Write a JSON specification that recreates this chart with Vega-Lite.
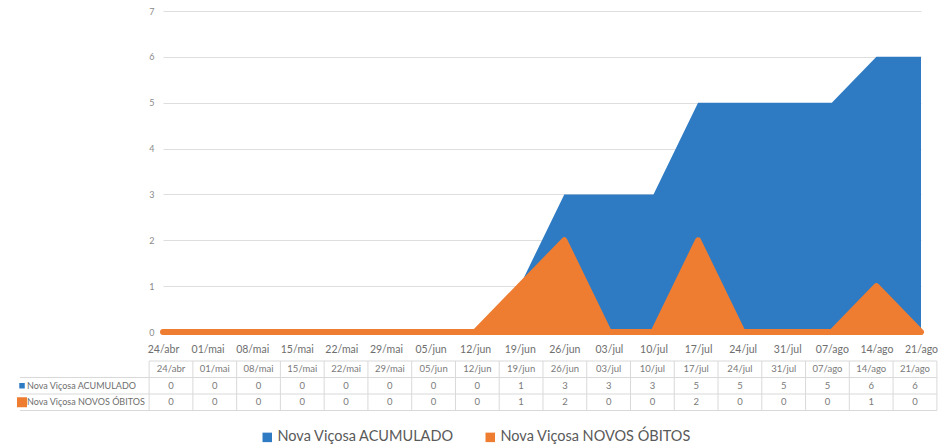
{
  "$schema": "https://vega.github.io/schema/vega-lite/v6.json",
  "background": "white",
  "padding": {"left": 17, "top": 7, "right": 0, "bottom": 0},
  "config": {
    "font": "Lato",
    "view": {"stroke": null},
    "concat": {"spacing": 5},
    "legend": {
      "orient": "none",
      "legendX": 97,
      "legendY": 419,
      "direction": "horizontal",
      "symbolType": "square",
      "symbolSize": 90,
      "symbolStrokeWidth": 0,
      "labelFontSize": 14.5,
      "labelColor": "#595959",
      "labelFont": "Lato",
      "labelLimit": 0,
      "columnPadding": 28,
      "labelOffset": 3
    }
  },
  "datasets": {
    "obitos": [
      {"data": "24/abr", "serie": "Nova Viçosa ACUMULADO", "valor": 0},
      {"data": "01/mai", "serie": "Nova Viçosa ACUMULADO", "valor": 0},
      {"data": "08/mai", "serie": "Nova Viçosa ACUMULADO", "valor": 0},
      {"data": "15/mai", "serie": "Nova Viçosa ACUMULADO", "valor": 0},
      {"data": "22/mai", "serie": "Nova Viçosa ACUMULADO", "valor": 0},
      {"data": "29/mai", "serie": "Nova Viçosa ACUMULADO", "valor": 0},
      {"data": "05/jun", "serie": "Nova Viçosa ACUMULADO", "valor": 0},
      {"data": "12/jun", "serie": "Nova Viçosa ACUMULADO", "valor": 0},
      {"data": "19/jun", "serie": "Nova Viçosa ACUMULADO", "valor": 1},
      {"data": "26/jun", "serie": "Nova Viçosa ACUMULADO", "valor": 3},
      {"data": "03/jul", "serie": "Nova Viçosa ACUMULADO", "valor": 3},
      {"data": "10/jul", "serie": "Nova Viçosa ACUMULADO", "valor": 3},
      {"data": "17/jul", "serie": "Nova Viçosa ACUMULADO", "valor": 5},
      {"data": "24/jul", "serie": "Nova Viçosa ACUMULADO", "valor": 5},
      {"data": "31/jul", "serie": "Nova Viçosa ACUMULADO", "valor": 5},
      {"data": "07/ago", "serie": "Nova Viçosa ACUMULADO", "valor": 5},
      {"data": "14/ago", "serie": "Nova Viçosa ACUMULADO", "valor": 6},
      {"data": "21/ago", "serie": "Nova Viçosa ACUMULADO", "valor": 6},
      {"data": "24/abr", "serie": "Nova Viçosa NOVOS ÓBITOS", "valor": 0},
      {"data": "01/mai", "serie": "Nova Viçosa NOVOS ÓBITOS", "valor": 0},
      {"data": "08/mai", "serie": "Nova Viçosa NOVOS ÓBITOS", "valor": 0},
      {"data": "15/mai", "serie": "Nova Viçosa NOVOS ÓBITOS", "valor": 0},
      {"data": "22/mai", "serie": "Nova Viçosa NOVOS ÓBITOS", "valor": 0},
      {"data": "29/mai", "serie": "Nova Viçosa NOVOS ÓBITOS", "valor": 0},
      {"data": "05/jun", "serie": "Nova Viçosa NOVOS ÓBITOS", "valor": 0},
      {"data": "12/jun", "serie": "Nova Viçosa NOVOS ÓBITOS", "valor": 0},
      {"data": "19/jun", "serie": "Nova Viçosa NOVOS ÓBITOS", "valor": 1},
      {"data": "26/jun", "serie": "Nova Viçosa NOVOS ÓBITOS", "valor": 2},
      {"data": "03/jul", "serie": "Nova Viçosa NOVOS ÓBITOS", "valor": 0},
      {"data": "10/jul", "serie": "Nova Viçosa NOVOS ÓBITOS", "valor": 0},
      {"data": "17/jul", "serie": "Nova Viçosa NOVOS ÓBITOS", "valor": 2},
      {"data": "24/jul", "serie": "Nova Viçosa NOVOS ÓBITOS", "valor": 0},
      {"data": "31/jul", "serie": "Nova Viçosa NOVOS ÓBITOS", "valor": 0},
      {"data": "07/ago", "serie": "Nova Viçosa NOVOS ÓBITOS", "valor": 0},
      {"data": "14/ago", "serie": "Nova Viçosa NOVOS ÓBITOS", "valor": 1},
      {"data": "21/ago", "serie": "Nova Viçosa NOVOS ÓBITOS", "valor": 0}
    ]
  },
  "resolve": {"scale": {"x": "independent", "y": "independent"}},
  "vconcat": [
    {
      "width": 758,
      "height": 321,
      "data": {"name": "obitos"},
      "encoding": {
        "x": {
          "field": "data", "type": "ordinal", "sort": null,
          "scale": {"type": "point", "padding": 0},
          "axis": {"title": null, "labelAngle": 0, "domain": false, "ticks": false, "grid": false,
                   "labelPadding": 12, "labelFontSize": 10.5, "labelColor": "#6e6e6e"}
        },
        "y": {
          "field": "valor", "type": "quantitative",
          "scale": {"domain": [0, 7], "nice": false},
          "axis": {"title": null, "values": [0, 1, 2, 3, 4, 5, 6, 7], "format": "d", "domain": false, "ticks": false,
                   "labelPadding": 9, "labelFontSize": 9, "labelColor": "#8a8a8a", "gridColor": "#dedede"}
        },
        "color": {
          "field": "serie", "type": "nominal",
          "scale": {"domain": ["Nova Viçosa ACUMULADO", "Nova Viçosa NOVOS ÓBITOS"], "range": ["#2E7BC4", "#EE7D31"]},
          "legend": {"title": null}
        }
      },
      "layer": [
        {
          "transform": [{"filter": "datum.serie === 'Nova Viçosa ACUMULADO'"}],
          "mark": {"type": "area", "opacity": 1}
        },
        {
          "transform": [{"filter": "datum.serie === 'Nova Viçosa NOVOS ÓBITOS'"}],
          "mark": {"type": "area", "opacity": 1, "stroke": "#EE7D31", "strokeWidth": 6, "strokeJoin": "round"}
        }
      ]
    },
    {
      "width": 760,
      "height": 49.5,
      "data": {"name": "obitos"},
      "encoding": {
        "x": {"field": "data", "type": "ordinal", "sort": null, "scale": {"type": "point", "padding": 0.183}, "axis": null}
      },
      "layer": [
        {
          "transform": [{"filter": "datum.serie === 'Nova Viçosa ACUMULADO'"}],
          "mark": {"type": "rule", "color": "#d9d9d9", "strokeWidth": 1, "xOffset": -21.9},
          "encoding": {}
        },
        {
          "transform": [{"filter": "datum.data === '21/ago' && datum.serie === 'Nova Viçosa ACUMULADO'"}],
          "mark": {"type": "rule", "color": "#d9d9d9", "strokeWidth": 1, "xOffset": 21.9},
          "encoding": {}
        },
        {
          "transform": [{"filter": "datum.data === '24/abr' && datum.serie === 'Nova Viçosa ACUMULADO'"}],
          "mark": {"type": "rule", "color": "#d9d9d9", "strokeWidth": 1, "xOffset": -21.9, "x2Offset": 21.9},
          "encoding": {
            "x": {"datum": "24/abr", "type": "ordinal"},
            "x2": {"datum": "21/ago"},
            "y": {"datum": "Data", "type": "nominal", "bandPosition": 0,
                  "scale": {"type": "band", "domain": ["Data", "Nova Viçosa ACUMULADO", "Nova Viçosa NOVOS ÓBITOS"], "paddingInner": 0, "paddingOuter": 0},
                  "axis": null}
          }
        },
        {
          "transform": [{"filter": "datum.data === '24/abr'"}],
          "mark": {"type": "rule", "color": "#d9d9d9", "strokeWidth": 1, "xOffset": -151, "x2Offset": 21.9},
          "encoding": {
            "x": {"datum": "24/abr", "type": "ordinal"},
            "x2": {"datum": "21/ago"},
            "y": {"field": "serie", "type": "nominal", "bandPosition": 0}
          }
        },
        {
          "transform": [{"filter": "datum.data === '24/abr' && datum.serie === 'Nova Viçosa NOVOS ÓBITOS'"}],
          "mark": {"type": "rule", "color": "#d9d9d9", "strokeWidth": 1, "xOffset": -151, "x2Offset": 21.9},
          "encoding": {
            "x": {"datum": "24/abr", "type": "ordinal"},
            "x2": {"datum": "21/ago"},
            "y": {"field": "serie", "type": "nominal", "bandPosition": 1}
          }
        },
        {
          "transform": [{"filter": "datum.serie === 'Nova Viçosa ACUMULADO'"}],
          "mark": {"type": "text", "fontSize": 9.5, "color": "#7a7a7a", "baseline": "middle"},
          "encoding": {
            "y": {"datum": "Data", "type": "nominal"},
            "text": {"field": "data"}
          }
        },
        {
          "mark": {"type": "text", "fontSize": 9.5, "color": "#7a7a7a", "baseline": "middle"},
          "encoding": {
            "y": {"field": "serie", "type": "nominal"},
            "text": {"field": "valor", "type": "quantitative"}
          }
        },
        {
          "transform": [{"filter": "datum.data === '24/abr'"}],
          "mark": {"type": "text", "fontSize": 9, "color": "#6e6e6e", "align": "left", "baseline": "middle", "xOffset": -144},
          "encoding": {
            "x": {"datum": "24/abr", "type": "ordinal"},
            "y": {"field": "serie", "type": "nominal"},
            "text": {"field": "serie"}
          }
        },
        {
          "transform": [{"filter": "datum.data === '24/abr'"}],
          "mark": {"type": "point", "shape": "square", "filled": true, "opacity": 1, "xOffset": -149},
          "encoding": {
            "x": {"datum": "24/abr", "type": "ordinal"},
            "y": {"field": "serie", "type": "nominal"},
            "fill": {"condition": {"test": "datum.serie === 'Nova Viçosa NOVOS ÓBITOS'", "value": "#EE7D31"}, "value": "#2E7BC4"},
            "size": {"condition": {"test": "datum.serie === 'Nova Viçosa NOVOS ÓBITOS'", "value": 100}, "value": 30}
          }
        }
      ]
    }
  ]
}
